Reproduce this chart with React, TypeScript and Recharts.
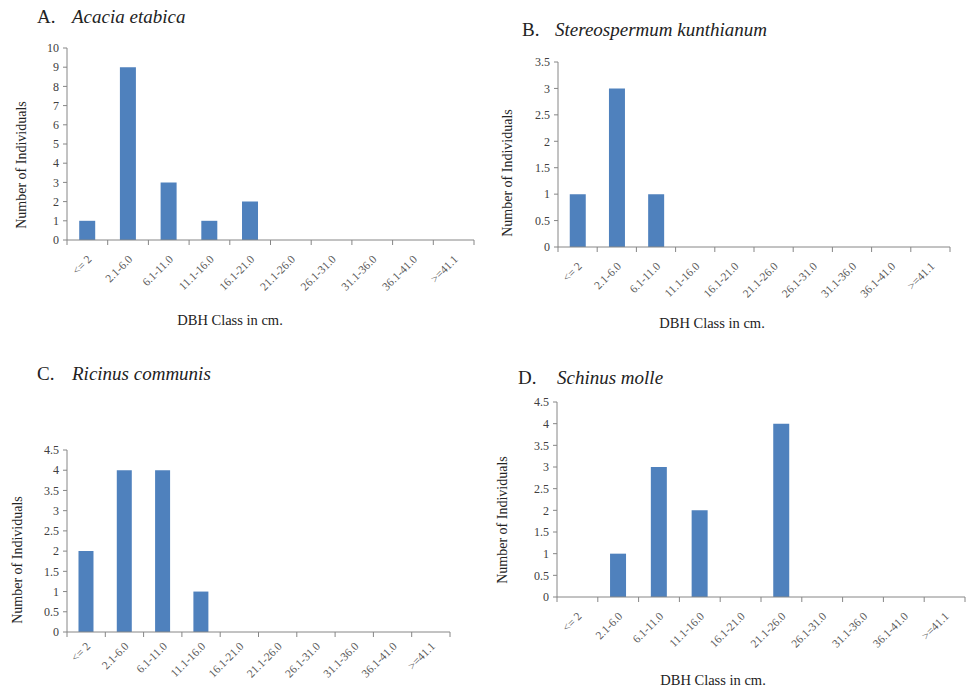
import React from 'react';
import { Bar, BarChart, XAxis, YAxis } from 'recharts';

const dbhClasses = ['<= 2', '2.1-6.0', '6.1-11.0', '11.1-16.0', '16.1-21.0', '21.1-26.0', '26.1-31.0', '31.1-36.0', '36.1-41.0', '>=41.1'];

const acaciaEtabica = [1, 9, 3, 1, 2, 0, 0, 0, 0, 0];
const stereospermumKunthianum = [1, 3, 1, 0, 0, 0, 0, 0, 0, 0];
const ricinusCommunis = [2, 4, 4, 1, 0, 0, 0, 0, 0, 0];
const schinusMolle = [0, 1, 3, 2, 0, 4, 0, 0, 0, 0];

const ticksToTen = [0, 1, 2, 3, 4, 5, 6, 7, 8, 9, 10];
const ticksToThreeHalf = [0, 0.5, 1, 1.5, 2, 2.5, 3, 3.5];
const ticksToFourHalf = [0, 0.5, 1, 1.5, 2, 2.5, 3, 3.5, 4, 4.5];

const FONT = 'Liberation Serif, DejaVu Serif, serif';
const BLUE = '#4F81BD';
const AXIS = '#868686';

const toRows = (values: number[]) => dbhClasses.map((name, i) => ({ name, count: values[i] }));

// category labels sit under the band centres, tick marks on the band edges (Excel style)
const DbhTick = (props: any) => {
  const { x, y, payload, index, band, drop } = props;
  const last = index === dbhClasses.length - 1;
  return (
    <g>
      <line x1={x - band / 2} y1={y} x2={x - band / 2} y2={y + 5} stroke={AXIS} />
      {last && <line x1={x + band / 2} y1={y} x2={x + band / 2} y2={y + 5} stroke={AXIS} />}
      <text
        transform={`translate(${x + 5},${y + drop}) rotate(-45)`}
        textAnchor="end"
        fontSize={11.5}
        fontFamily={FONT}
        fill="#595959"
      >
        {payload.value}
      </text>
    </g>
  );
};

interface PanelProps {
  left: number;
  top: number;
  width: number;
  height: number;
  values: number[];
  yTicks: number[];
  yAxisWidth: number;
  xAxisHeight: number;
  labelDrop: number;
  margin: { top: number; right: number; bottom: number; left: number };
  letter: string;
  species: string;
  letterX: number;
  speciesX: number;
  titleY: number;
  yLabel: [number, number];
  xLabel?: [number, number];
}

const Panel: React.FC<PanelProps> = (p) => {
  const plotWidth = p.width - p.margin.left - p.margin.right - p.yAxisWidth;
  const band = plotWidth / dbhClasses.length;
  return (
    <>
      <div style={{ position: 'absolute', left: p.left, top: p.top }}>
        <BarChart width={p.width} height={p.height} data={toRows(p.values)} margin={p.margin} barCategoryGap="30%">
          <XAxis
            dataKey="name"
            interval={0}
            height={p.xAxisHeight}
            tickSize={0}
            tickMargin={0}
            tickLine={false}
            axisLine={{ stroke: AXIS }}
            tick={(tp: any) => <DbhTick {...tp} band={band} drop={p.labelDrop} />}
          />
          <YAxis
            width={p.yAxisWidth}
            domain={[0, p.yTicks[p.yTicks.length - 1]]}
            ticks={p.yTicks}
            interval={0}
            tickSize={4}
            tickMargin={4}
            axisLine={{ stroke: AXIS }}
            tickLine={{ stroke: AXIS }}
            tick={{ fontSize: 12, fontFamily: FONT, fill: '#404040' }}
          />
          <Bar dataKey="count" fill={BLUE} isAnimationActive={false} />
        </BarChart>
      </div>
      <div style={{ position: 'absolute', left: p.letterX, top: p.titleY, transform: 'translateY(-50%)', fontFamily: FONT, fontSize: 19, color: '#222', whiteSpace: 'nowrap' }}>
        {p.letter}
      </div>
      <div style={{ position: 'absolute', left: p.speciesX, top: p.titleY, transform: 'translateY(-50%)', fontFamily: FONT, fontSize: 19, fontStyle: 'italic', color: '#222', whiteSpace: 'nowrap' }}>
        {p.species}
      </div>
      <div style={{ position: 'absolute', left: p.yLabel[0], top: p.yLabel[1], transform: 'translate(-50%,-50%) rotate(-90deg)', fontFamily: FONT, fontSize: 14, color: '#222', whiteSpace: 'nowrap' }}>
        Number of Individuals
      </div>
      {p.xLabel && (
        <div style={{ position: 'absolute', left: p.xLabel[0], top: p.xLabel[1], transform: 'translate(-50%,-50%)', fontFamily: FONT, fontSize: 14.5, color: '#222', whiteSpace: 'nowrap' }}>
          DBH Class in cm.
        </div>
      )}
    </>
  );
};

export default function App() {
  return (
    <div style={{ position: 'absolute', left: 0, top: 0, width: 972, height: 687, background: '#fff', overflow: 'hidden' }}>
      <Panel
        left={0} top={0} width={480} height={330}
        values={acaciaEtabica} yTicks={ticksToTen}
        yAxisWidth={67} xAxisHeight={90} labelDrop={20}
        margin={{ top: 48, right: 6, bottom: 0, left: 0 }}
        letter="A." species="Acacia etabica" letterX={37} speciesX={72} titleY={17}
        yLabel={[22, 165]} xLabel={[230, 320]}
      />
      <Panel
        left={490} top={0} width={482} height={340}
        values={stereospermumKunthianum} yTicks={ticksToThreeHalf}
        yAxisWidth={68} xAxisHeight={93} labelDrop={20}
        margin={{ top: 62, right: 22, bottom: 0, left: 0 }}
        letter="B." species="Stereospermum kunthianum" letterX={522} speciesX={555} titleY={30}
        yLabel={[508, 173]} xLabel={[712, 323]}
      />
      <Panel
        left={0} top={350} width={480} height={337}
        values={ricinusCommunis} yTicks={ticksToFourHalf}
        yAxisWidth={67} xAxisHeight={55} labelDrop={15}
        margin={{ top: 100, right: 30, bottom: 0, left: 0 }}
        letter="C." species="Ricinus communis" letterX={37} speciesX={72} titleY={374}
        yLabel={[18, 560]}
      />
      <Panel
        left={480} top={350} width={492} height={337}
        values={schinusMolle} yTicks={ticksToFourHalf}
        yAxisWidth={77} xAxisHeight={90} labelDrop={20}
        margin={{ top: 52, right: 7, bottom: 0, left: 0 }}
        letter="D." species="Schinus molle" letterX={518} speciesX={557} titleY={378}
        yLabel={[503, 520]} xLabel={[713, 680]}
      />
    </div>
  );
}
